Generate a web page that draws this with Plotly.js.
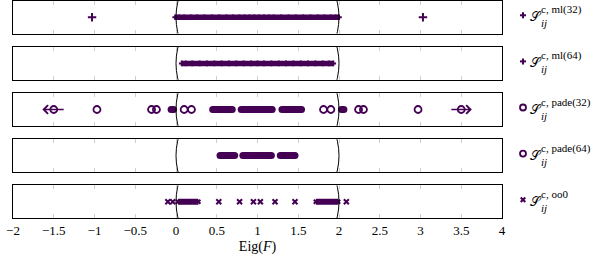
<!DOCTYPE html>
<html><head><meta charset="utf-8">
<script src="https://cdn.plot.ly/plotly-3.0.1.min.js"></script>
<style>html,body{margin:0;padding:0;background:#fff}</style>
</head><body><div id="chart" style="width:601px;height:262px"></div>
<script>
// ---------- data ----------
const seriesLabels = ['c, ml(32)', 'c, ml(64)', 'c, pade(32)', 'c, pade(64)', 'c, oo0'];
const tickVals = [-2, -1.5, -1, -0.5, 0, 0.5, 1, 1.5, 2, 2.5, 3, 3.5, 4];
const tickText = ['\u22122', '\u22121.5', '\u22121', '\u22120.5', '0', '0.5', '1', '1.5', '2', '2.5', '3', '3.5', '4'];
const xTitle = 'Eig(<i>F</i>)';
// stability circle |z - 1| = 1
const circleCenter = 1;
const circleRadius = 1;

const ml32Isolated = [-1.03, 3.03];
const ml32Cluster = [-0.01, 0.04, 0.1, 0.18, 0.26, 0.35, 0.44, 0.53, 0.62, 0.7, 0.78, 0.84, 0.9, 0.96, 1.02, 1.08, 1.14, 1.2, 1.29, 1.38, 1.47, 1.56, 1.65, 1.74, 1.82, 1.9, 1.96, 2.0];

const ml64Cluster = [0.07, 0.12, 0.2, 0.29, 0.38, 0.47, 0.56, 0.65, 0.74, 0.83, 0.92, 1.0, 1.08, 1.17, 1.26, 1.35, 1.44, 1.53, 1.62, 1.71, 1.8, 1.88, 1.93];

const pade32Isolated = [-1.5, -0.97, -0.30, -0.24, 0.10, 0.19, 1.81, 1.90, 2.24, 2.30, 2.97, 3.5];
const pade32ClusterA = [-0.06, -0.03];
const pade32ClusterB = [0.45, 0.5, 0.56, 0.62, 0.69];
const pade32ClusterC = [0.8, 0.87, 0.95, 1.0, 1.05, 1.12, 1.18];
const pade32ClusterD = [1.3, 1.37, 1.43, 1.48, 1.54];
const pade32ClusterE = [2.03, 2.06];
const pade32ArrowTips = [-1.64, 3.63];
const pade32ArrowTails = [-1.36, 3.36];

const pade64ClusterA = [0.54, 0.6, 0.66, 0.72];
const pade64ClusterB = [0.82, 0.9, 0.97, 1.03, 1.1, 1.17];
const pade64ClusterC = [1.28, 1.34, 1.4, 1.46];

const oo0Isolated = [-0.10, -0.04, 0.525, 0.78, 0.95, 1.035, 1.215, 1.46, 2.09];
const oo0ClusterA = [0.025, 0.08, 0.14, 0.2, 0.275];
const oo0ClusterB = [1.715, 1.78, 1.85, 1.92, 1.99];

// ---------- styling ----------
const PURPLE = '#440154';
const SERIF = '"Liberation Serif", "DejaVu Serif", serif';
const suf = ['', '2', '3', '4', '5'];
const panelH = 0.15, panelStep = 0.2125;
const zeros = a => a.map(() => 0);

const traces = [];
function pts(k, xs, sym, size, lw) {
  traces.push({x: xs, y: zeros(xs), xaxis: 'x' + suf[k], yaxis: 'y' + suf[k], mode: 'markers',
    marker: {symbol: sym, size: size, color: PURPLE, line: {color: PURPLE, width: lw}},
    showlegend: false, hoverinfo: 'skip', cliponaxis: true});
}
function band(k, xs, sym, size, lw, bandW) {
  traces.push({x: xs, y: zeros(xs), xaxis: 'x' + suf[k], yaxis: 'y' + suf[k], mode: 'lines+markers',
    line: {color: PURPLE, width: bandW},
    marker: {symbol: sym, size: size, color: PURPLE, line: {color: PURPLE, width: lw}},
    showlegend: false, hoverinfo: 'skip'});
}

band(0, ml32Cluster, 'cross-thin', 4, 2, 5.5);
pts(0, ml32Isolated, 'cross-thin', 6, 2);
band(1, ml64Cluster, 'cross-thin', 4, 2, 5.5);
[pade32ClusterA, pade32ClusterB, pade32ClusterC, pade32ClusterD, pade32ClusterE].forEach(c => band(2, c, 'circle', 7, 0, 7));
pts(2, pade32Isolated, 'circle-open', 7, 1.8);
[pade64ClusterA, pade64ClusterB, pade64ClusterC].forEach(c => band(3, c, 'circle', 7, 0, 7));
[oo0ClusterA, oo0ClusterB].forEach(c => band(4, c, 'x-thin', 4, 2, 6));
pts(4, oo0Isolated, 'x-thin', 5, 2);

const layout = {
  width: 601, height: 262,
  margin: {l: 13, r: 99, t: 1, b: 44},
  paper_bgcolor: '#fff', plot_bgcolor: '#fff',
  showlegend: false,
  shapes: [], annotations: []
};

for (let k = 0; k < 5; k++) {
  const top = 1 - k * panelStep;
  const last = k === 4;
  layout['xaxis' + suf[k]] = {
    domain: [0, 1], anchor: 'y' + suf[k], range: [-2, 4],
    tickmode: 'array', tickvals: tickVals, ticktext: tickText,
    ticks: 'inside', ticklen: 4, tickcolor: '#cfcfcf', tickwidth: 1,
    showline: true, linecolor: '#000', linewidth: 1.4, mirror: 'ticks',
    showgrid: false, zeroline: false, showticklabels: last,
    tickfont: {family: SERIF, size: 13, color: '#000'},
    title: last ? {text: xTitle, font: {family: SERIF, size: 14, color: '#000'}, standoff: 4} : {text: ''},
    fixedrange: true
  };
  layout['yaxis' + suf[k]] = {
    domain: [top - panelH, top], anchor: 'x' + suf[k], range: [-0.22, 0.22],
    showline: true, linecolor: '#000', linewidth: 1.4, mirror: true,
    ticks: '', showticklabels: false, showgrid: false, zeroline: false, fixedrange: true
  };
  // stability circle
  layout.shapes.push({type: 'circle', xref: 'x' + suf[k], yref: 'y' + suf[k],
    x0: circleCenter - circleRadius, x1: circleCenter + circleRadius, y0: -circleRadius, y1: circleRadius,
    line: {color: '#000', width: 1}, layer: 'above'});

  // legend entry
  const yc = top - panelH / 2;
  const xa = (523 - 13) / 489;
  const base = {xref: 'paper', yref: 'paper', xsizemode: 'pixel', ysizemode: 'pixel', xanchor: xa, yanchor: yc,
    line: {color: PURPLE, width: 2}};
  if (k <= 1) {
    layout.shapes.push(Object.assign({}, base, {type: 'line', x0: -3, x1: 3, y0: 2, y1: 2}));
    layout.shapes.push(Object.assign({}, base, {type: 'line', x0: 0, x1: 0, y0: -1, y1: 5}));
  } else if (k <= 3) {
    layout.shapes.push(Object.assign({}, base, {type: 'circle', x0: -3, x1: 3, y0: -1, y1: 5, line: {color: PURPLE, width: 1.8}}));
  } else {
    layout.shapes.push(Object.assign({}, base, {type: 'line', x0: -2.3, x1: 2.3, y0: -0.3, y1: 4.3}));
    layout.shapes.push(Object.assign({}, base, {type: 'line', x0: -2.3, x1: 2.3, y0: 4.3, y1: -0.3}));
  }
  layout.annotations.push({xref: 'paper', yref: 'paper', x: (528.5 - 13) / 489, y: yc, xanchor: 'left', yanchor: 'middle',
    yshift: 0, borderpad: 0, text: '\u{1D4AE}', showarrow: false, font: {family: SERIF, size: 12.5, color: '#000'}});
  layout.annotations.push({xref: 'paper', yref: 'paper', x: (540 - 13) / 489, y: yc, xanchor: 'left', yanchor: 'middle',
    yshift: 1, borderpad: 0, align: 'left', text: seriesLabels[k] + '<br><i>ij</i>', showarrow: false,
    font: {family: SERIF, size: 11, color: '#000'}});
}

// arrows on the pade(32) outliers
pade32ArrowTips.forEach((tip, i) => {
  layout.annotations.push({xref: 'x3', yref: 'y3', axref: 'x3', ayref: 'y3', x: tip, y: 0,
    ax: pade32ArrowTails[i], ay: 0, text: '', showarrow: true, arrowhead: 4, arrowsize: 1.2,
    arrowwidth: 1.4, arrowcolor: PURPLE, standoff: 0, startstandoff: 0});
});

Plotly.newPlot('chart', traces, layout, {staticPlot: true, displayModeBar: false});
</script></body></html>
